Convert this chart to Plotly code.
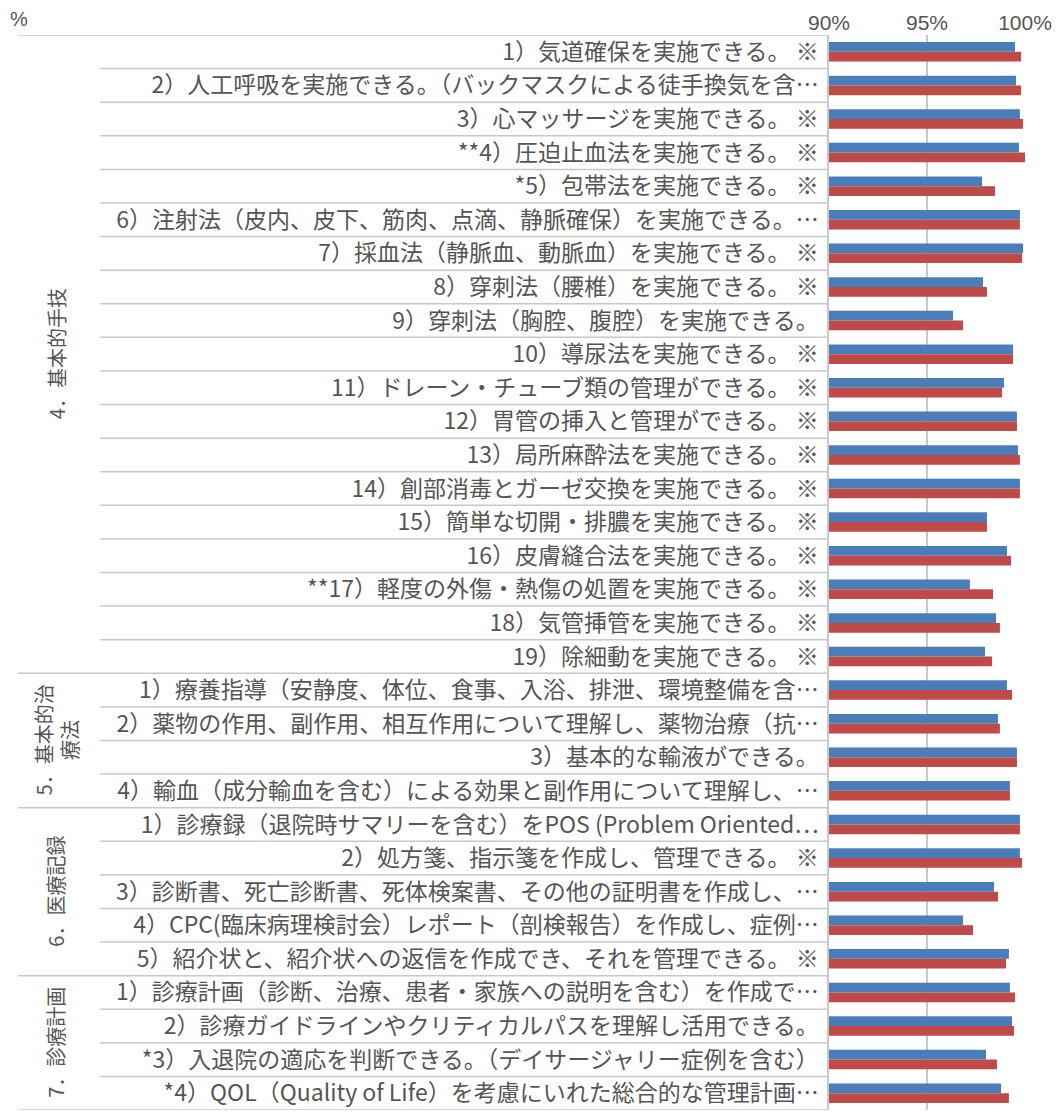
import plotly.graph_objects as go

labels = [
    "1）気道確保を実施できる。 ※",
    "2）人工呼吸を実施できる。（バックマスクによる徒手換気を含…",
    "3）心マッサージを実施できる。 ※",
    "**4）圧迫止血法を実施できる。 ※",
    "*5）包帯法を実施できる。 ※",
    "6）注射法（皮内、皮下、筋肉、点滴、静脈確保）を実施できる。…",
    "7）採血法（静脈血、動脈血）を実施できる。 ※",
    "8）穿刺法（腰椎）を実施できる。 ※",
    "9）穿刺法（胸腔、腹腔）を実施できる。",
    "10）導尿法を実施できる。 ※",
    "11）ドレーン・チューブ類の管理ができる。 ※",
    "12）胃管の挿入と管理ができる。 ※",
    "13）局所麻酔法を実施できる。 ※",
    "14）創部消毒とガーゼ交換を実施できる。 ※",
    "15）簡単な切開・排膿を実施できる。 ※",
    "16）皮膚縫合法を実施できる。 ※",
    "**17）軽度の外傷・熱傷の処置を実施できる。 ※",
    "18）気管挿管を実施できる。 ※",
    "19）除細動を実施できる。 ※",
    "1）療養指導（安静度、体位、食事、入浴、排泄、環境整備を含…",
    "2）薬物の作用、副作用、相互作用について理解し、薬物治療（抗…",
    "3）基本的な輸液ができる。",
    "4）輸血（成分輸血を含む）による効果と副作用について理解し、…",
    "1）診療録（退院時サマリーを含む）をPOS (Problem Oriented…",
    "2）処方箋、指示箋を作成し、管理できる。 ※",
    "3）診断書、死亡診断書、死体検案書、その他の証明書を作成し、…",
    "4）CPC(臨床病理検討会）レポート（剖検報告）を作成し、症例…",
    "5）紹介状と、紹介状への返信を作成でき、それを管理できる。 ※",
    "1）診療計画（診断、治療、患者・家族への説明を含む）を作成で…",
    "2）診療ガイドラインやクリティカルパスを理解し活用できる。",
    "*3）入退院の適応を判断できる。（デイサージャリー症例を含む）",
    "*4）QOL（Quality of Life）を考慮にいれた総合的な管理計画…",
]

blue_values = [99.49, 99.54, 99.74, 99.69, 97.81, 99.74, 99.90, 97.86, 96.33, 99.39,
               98.93, 99.59, 99.64, 99.74, 98.06, 99.08, 97.19, 98.52, 97.96,
               99.08, 98.62, 99.59, 99.23,
               99.74, 99.74, 98.42, 96.84, 99.18,
               99.23, 99.34, 98.01, 98.78]
red_values = [99.80, 99.80, 99.90, 100.0, 98.47, 99.74, 99.85, 98.06, 96.84, 99.39,
              98.83, 99.59, 99.74, 99.74, 98.06, 99.29, 98.37, 98.72, 98.32,
              99.34, 98.72, 99.59, 99.23,
              99.74, 99.85, 98.62, 97.35, 99.03,
              99.49, 99.44, 98.57, 99.18]

group_names = ["4．基本的手技", "5．基本的治<br>療法", "6．医療記録", "7．診療計画"]
group_sizes = [19, 4, 5, 4]

tick_vals = [90, 95, 100]
tick_text = ["90%", "95%", "100%"]

BLUE = "#4A7EBB"
RED = "#BE4B48"
TEXT = "#555555"
LINE = "#C8C8C8"
FONT = "Noto Sans CJK JP"
TICK_FONT = "Liberation Sans"

fig = go.Figure()
fig.add_trace(go.Bar(y=labels, x=blue_values, orientation="h", marker_color=BLUE,
                     marker_line_width=0, name="A"))
fig.add_trace(go.Bar(y=labels, x=red_values, orientation="h", marker_color=RED,
                     marker_line_width=0, name="B"))

# the page body has an 8px default margin; size the figure to fit the window
OFF = 8
W, H = 1060 - OFF, 1114 - OFF
ML, MR, MT, MB = 829 - OFF, 35, 35 - OFF, 4
pw = W - ML - MR

def px_to_paper(page_px):
    return (page_px - OFF - ML) / pw

shapes = []
annotations = []
n = len(labels)
boundaries = [-0.5]
acc = 0
for s in group_sizes:
    acc += s
    boundaries.append(acc - 0.5)

for i in range(n + 1):
    yb = i - 0.5
    is_group = yb in boundaries
    shapes.append(dict(type="line", xref="paper", yref="y",
                       x0=px_to_paper(18 if is_group else 100), x1=0,
                       y0=yb, y1=yb, line=dict(color=LINE, width=1.5), layer="below"))

start = 0
for name, s in zip(group_names, group_sizes):
    center = start + (s - 1) / 2
    annotations.append(dict(text=name, xref="paper", yref="y",
                            x=px_to_paper(56), y=center, showarrow=False,
                            textangle=-90, xanchor="center", yanchor="middle",
                            font=dict(family=FONT, size=20, color=TEXT),
                            align="center"))
    start += s

annotations.append(dict(text="%", xref="paper", yref="paper",
                        x=px_to_paper(OFF), y=1, yshift=16, xanchor="left", yanchor="middle",
                        showarrow=False, font=dict(family=TICK_FONT, size=20, color=TEXT)))

fig.update_layout(
    width=W, height=H,
    margin=dict(l=ML, r=MR, t=MT, b=MB, autoexpand=False),
    paper_bgcolor="white", plot_bgcolor="white",
    barmode="group", bargap=0.42, bargroupgap=0,
    showlegend=False,
    font=dict(family=FONT, color=TEXT),
    shapes=shapes, annotations=annotations,
    xaxis=dict(range=[90, 100], side="top", tickvals=tick_vals, ticktext=tick_text,
               showgrid=True, gridcolor="#C8C8C8", gridwidth=1.5, zeroline=False,
               showline=False, tickfont=dict(family=TICK_FONT, size=21, color=TEXT),
               ticks="", ticklabelstandoff=0, automargin=False, fixedrange=True),
    yaxis=dict(autorange=False, range=[n - 0.5, -0.5], type="category",
               categoryorder="array", categoryarray=labels,
               showline=True, linecolor="#C8C8C8", linewidth=1.5,
               showgrid=False, ticks="", ticklabelstandoff=4, automargin=False,
               tickfont=dict(family=FONT, size=23, color=TEXT)),
)

fig.write_html("out.html")
